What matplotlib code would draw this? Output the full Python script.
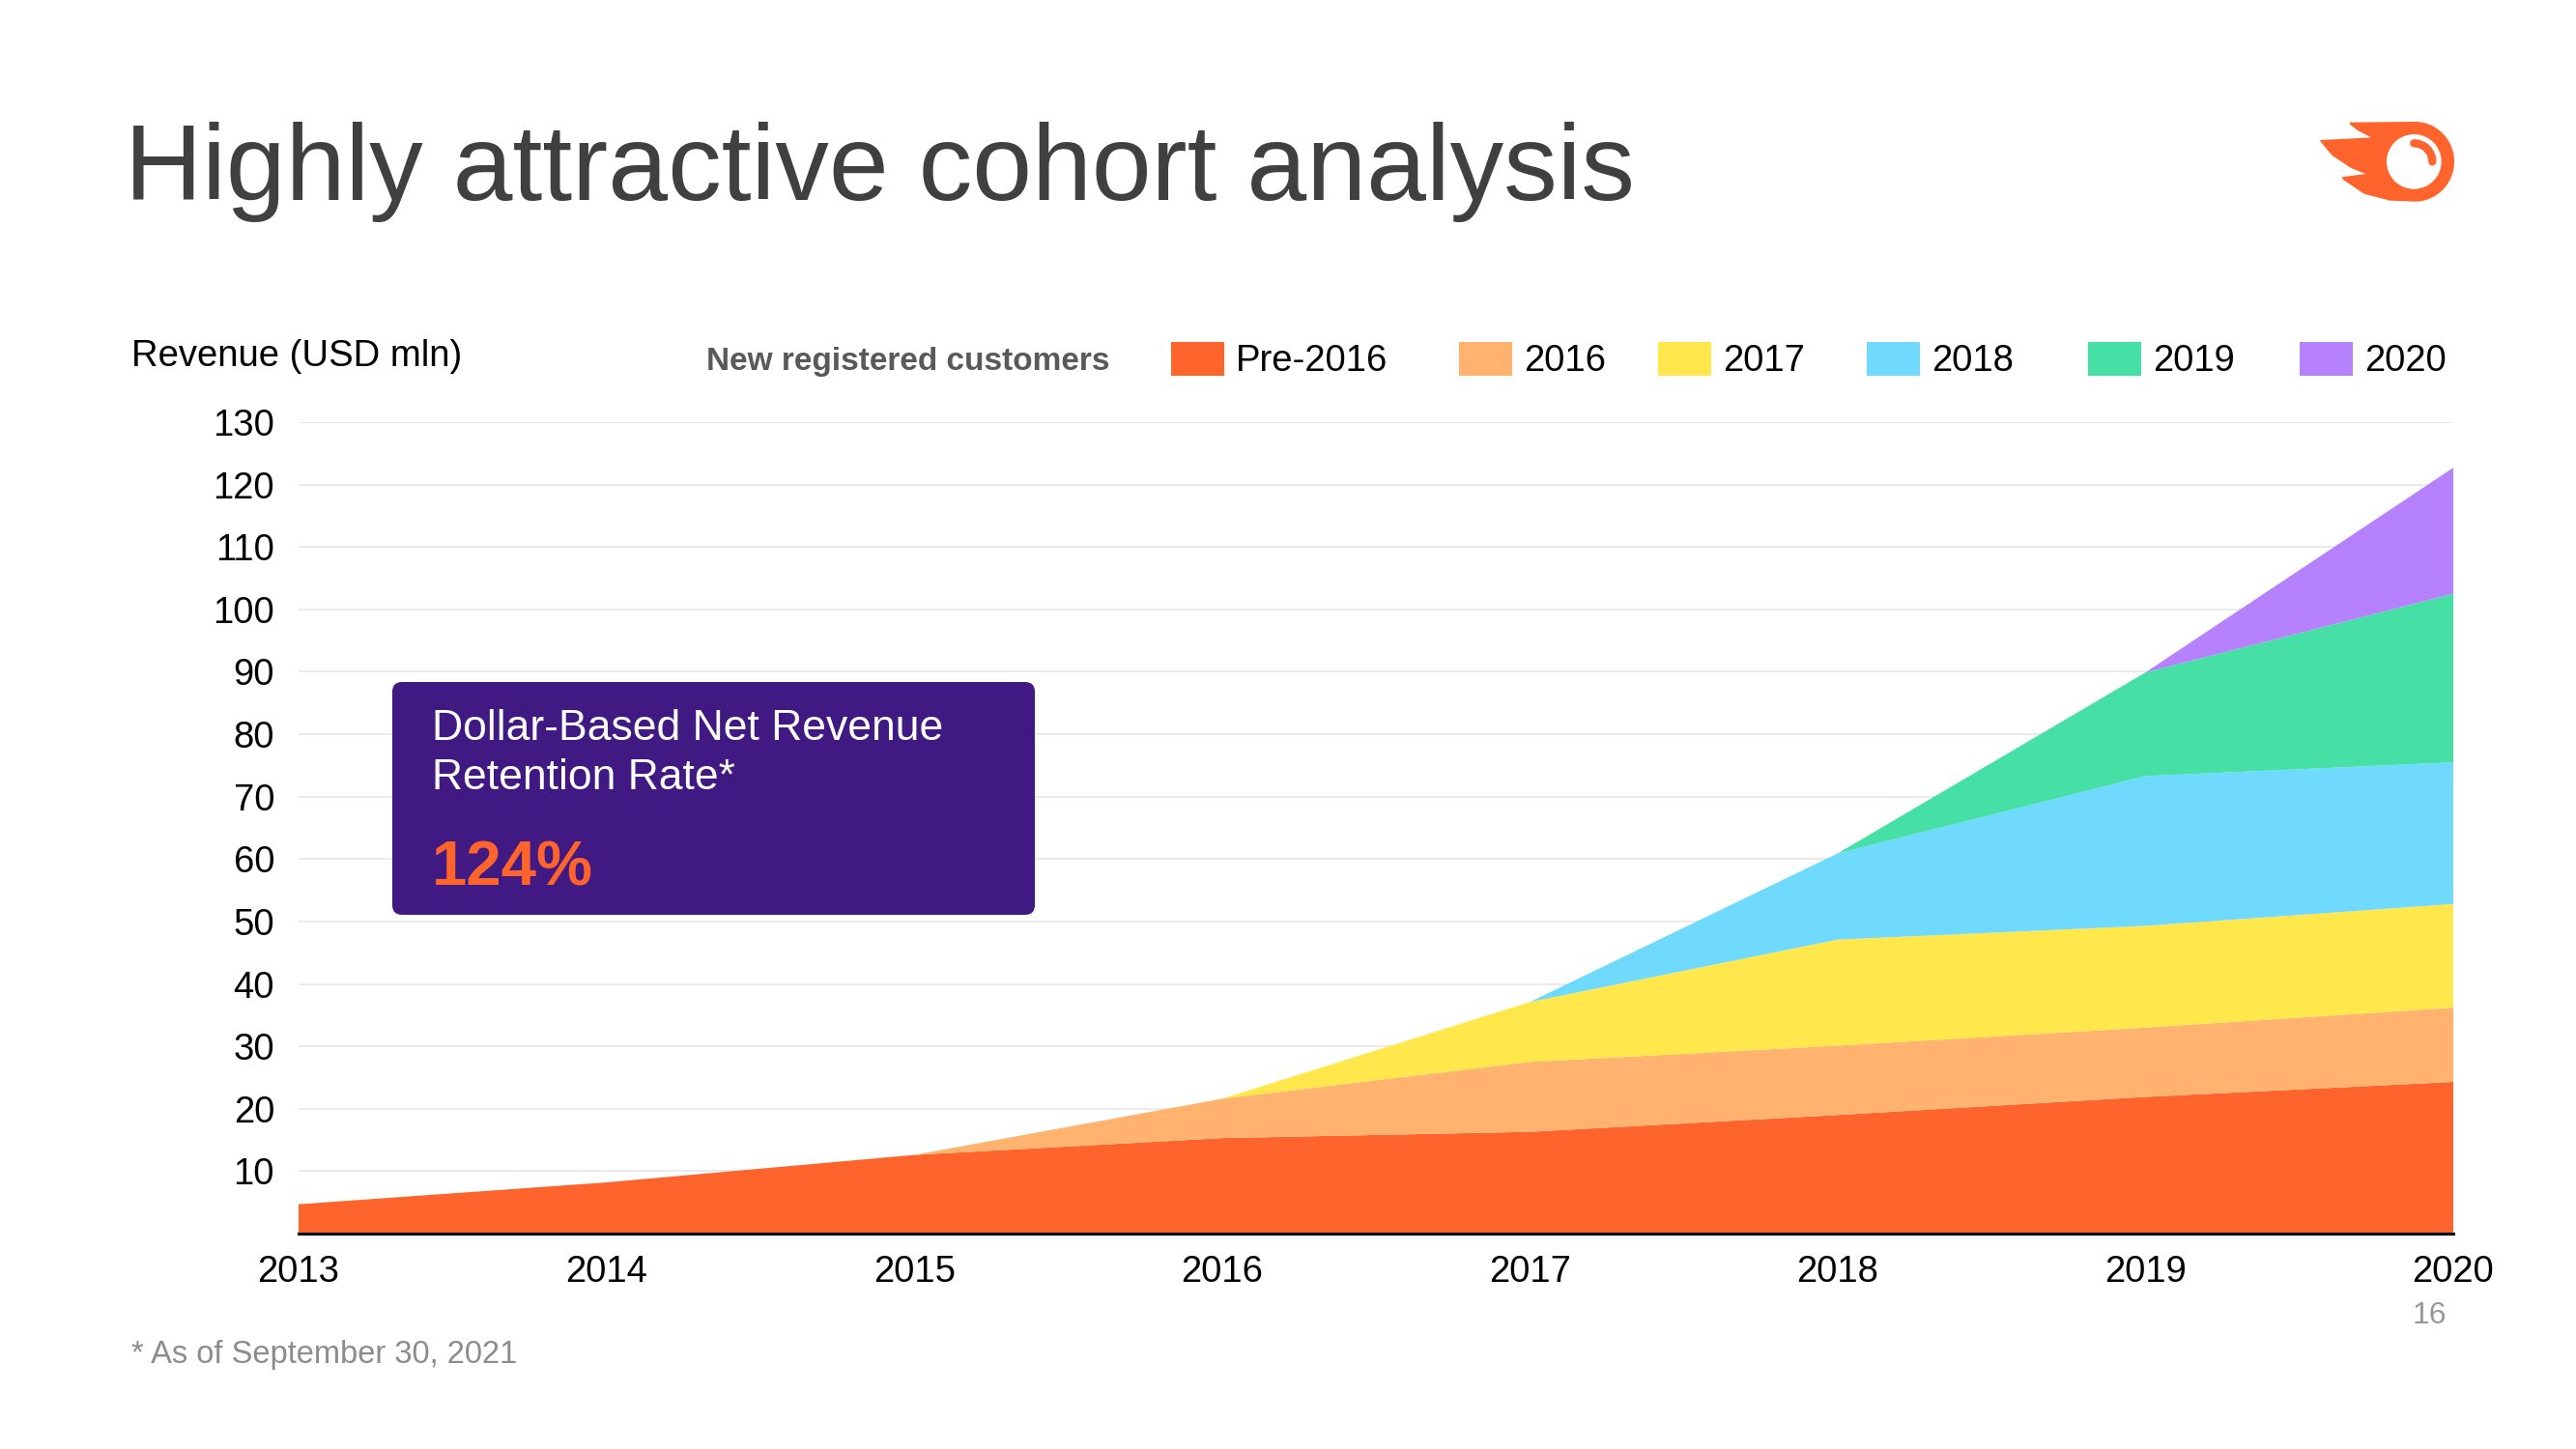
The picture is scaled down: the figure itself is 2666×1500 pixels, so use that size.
import matplotlib
matplotlib.use("Agg")
import numpy as np
from matplotlib import pyplot as plt
from matplotlib.patches import Patch, FancyBboxPatch, Polygon, Circle, Arc

plt.rcParams["font.family"] = ["Liberation Sans", "DejaVu Sans"]

# Data (USD mln per cohort)
years = [2013, 2014, 2015, 2016, 2017, 2018, 2019, 2020]
cohorts = ["Pre-2016", "2016", "2017", "2018", "2019", "2020"]
pre_2016 = [4.7, 8.2, 12.6, 15.3, 16.3, 19.0, 21.9, 24.3]
c_2016 = [0, 0, 0, 6.3, 11.2, 11.1, 11.1, 11.9]
c_2017 = [0, 0, 0, 0, 9.6, 17.0, 16.3, 16.6]
c_2018 = [0, 0, 0, 0, 0, 13.8, 24.0, 22.7]
c_2019 = [0, 0, 0, 0, 0, 0, 16.6, 27.0]
c_2020 = [0, 0, 0, 0, 0, 0, 0, 20.2]
yticks = list(range(10, 140, 10))

colors = ["#FF642D", "#FFB36E", "#FFE74C", "#6FD9FE", "#46DFA6", "#B681FC"]
orange = "#FF642D"

W, H = 2666, 1500
fig = plt.figure(figsize=(W / 100, H / 100), dpi=100)


def fx(px):
    return px / W


def fy(py):
    return 1 - py / H


# Main chart
ax = fig.add_axes([fx(309), fy(1277), fx(2539) - fx(309), fy(437) - fy(1277)])
series = [pre_2016, c_2016, c_2017, c_2018, c_2019, c_2020]
polys = ax.stackplot(years, *series, colors=colors, labels=cohorts, zorder=2,
                     linewidth=0)

ax.set_xlim(2013, 2020)
ax.set_ylim(0, 130)
ax.set_xticks(years)
ax.set_xticklabels([str(y) for y in years])
ax.set_yticks(yticks)
ax.tick_params(axis="both", length=0, labelsize=27.5, colors="black")
ax.tick_params(axis="y", pad=18)
ax.tick_params(axis="x", pad=16)
ax.grid(axis="y", color="#e6e6e6", linewidth=1.2, zorder=0)
ax.set_axisbelow(True)
for side in ["top", "right", "left"]:
    ax.spines[side].set_visible(False)
ax.spines["bottom"].set_linewidth(2.2)
ax.spines["bottom"].set_color("black")
ax.spines["bottom"].set_zorder(5)

# Title and labels
fig.text(fx(129), fy(207), "Highly attractive cohort analysis", fontsize=80,
         color="#404040", ha="left", va="baseline")
fig.text(fx(136), fy(369), "Revenue (USD mln)", fontsize=27.5, color="black",
         ha="left", va="center")
fig.text(fx(731), fy(374), "New registered customers", fontsize=24,
         fontweight="bold", color="#595959", ha="left", va="center")

# Legend entries, one per cohort so the uneven spacing of the slide is kept
legend_x = [1212, 1510, 1716, 1932, 2161, 2380]
for name, c, lx in zip(cohorts, colors, legend_x):
    fig.legend([Patch(facecolor=c, edgecolor="none")], [name], loc="center left",
               bbox_to_anchor=(fx(lx), fy(373)), frameon=False, fontsize=27.5,
               handlelength=1.45, handleheight=1.05, handletextpad=0.3,
               borderpad=0, borderaxespad=0)

# Retention box
box = FancyBboxPatch((4.06, 5.53), 6.65, 2.41, boxstyle="round,pad=0,rounding_size=0.1",
                     transform=fig.dpi_scale_trans, facecolor="#411983", edgecolor="none",
                     zorder=10)
fig.add_artist(box)
fig.text(fx(447), fy(780), "Dollar-Based Net Revenue\nRetention Rate*", fontsize=32,
         color="white", ha="left", va="center", linespacing=1.32, zorder=11)
fig.text(fx(447), fy(899), "124%", fontsize=47, fontweight="bold", color=orange,
         ha="left", va="center", zorder=11)

# Footnote and page number
fig.text(fx(136), fy(1402), "* As of September 30, 2021", fontsize=23.5,
         color="#8c8c8c", ha="left", va="center")
fig.text(fx(2514), fy(1362), "16", fontsize=23, color="#999999", ha="center", va="center")

# Logo
lax = fig.add_axes([fx(2395), fy(215), fx(2545) - fx(2395), fy(120) - fy(215)])
lax.set_xlim(285, 735)
lax.set_ylim(405, 120)
lax.axis("off")
t = np.linspace(-np.pi / 2, np.pi / 2, 40)
arc_pts = [(598 + 122 * np.cos(a), 262 + 124 * np.sin(a)) for a in t]
outline = ([(395, 140), (598, 138)] + arc_pts +
           [(520, 383), (440, 362), (375, 318), (370, 310), (445, 300),
            (400, 282), (340, 242), (305, 200), (303, 195), (462, 187),
            (420, 165), (398, 148)])
lax.add_patch(Polygon(outline, closed=True, facecolor=orange, edgecolor="none"))
lax.add_patch(Circle((595, 262), 85, facecolor="white", edgecolor="none"))
lax.add_patch(Arc((595, 262), 114, 114, theta1=-90, theta2=0, color=orange,
                  linewidth=6, capstyle="round"))

fig.savefig("out.png", dpi=100, facecolor="white")
